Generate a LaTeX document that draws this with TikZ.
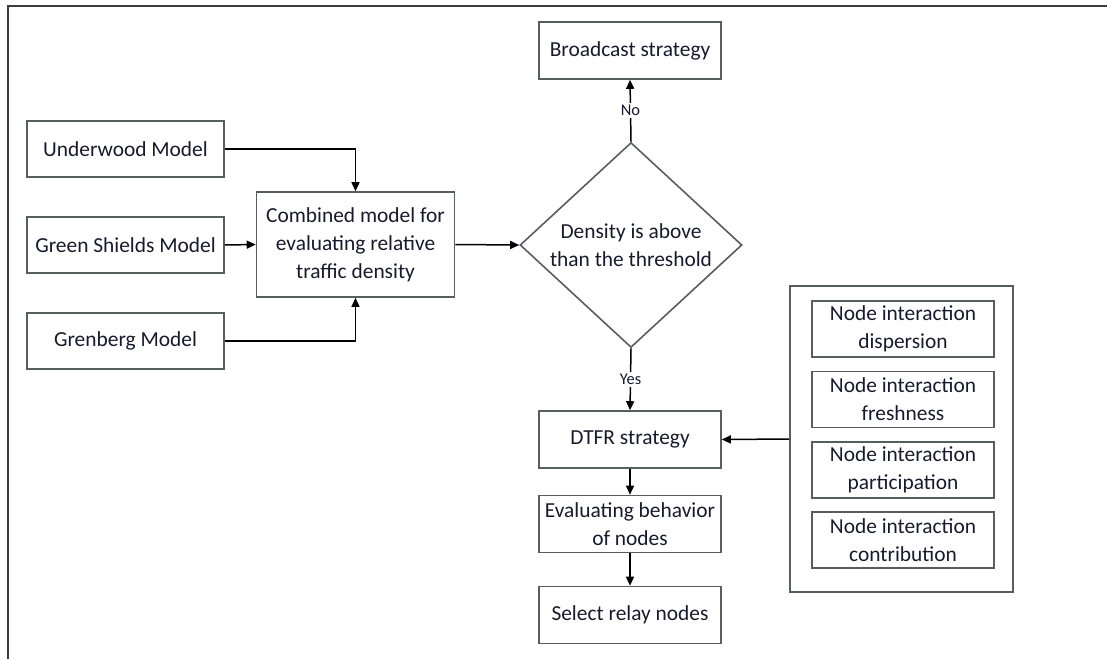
\documentclass[tikz,border=0pt]{standalone}
\usepackage{fontspec}
\setmainfont{Carlito}
\usetikzlibrary{shapes.geometric,arrows.meta}
\definecolor{boxgray}{RGB}{85,95,95}
\definecolor{txt}{RGB}{25,25,45}
\definecolor{framegray}{RGB}{60,60,60}
\begin{document}
\begin{tikzpicture}[x=0.5pt,y=-0.5pt,
  box/.style={draw=boxgray, line width=0.8pt, rectangle, align=center, inner sep=1pt,
    font=\fontsize{10.7}{14}\selectfont, text=txt},
  leftbox/.style={box, minimum width=98.5pt, minimum height=28pt},
  midbox/.style={box, minimum width=91pt, minimum height=28.5pt},
  nibox/.style={box, minimum width=91pt, minimum height=28pt},
  decision/.style={box, shape=diamond, inner sep=0pt, minimum width=111pt, minimum height=97pt},
  panel/.style={draw=boxgray, line width=0.8pt, rectangle, minimum width=111.5pt, minimum height=153pt, inner sep=0pt},
  lab/.style={fill=white, inner sep=1pt, font=\fontsize{8.2}{10}\selectfont, text=txt},
  arr/.style={draw=black, line width=0.75pt, -{Triangle[length=4.5pt,width=4pt]}},
  conn/.style={draw=black, line width=0.75pt}]
\useasboundingbox (0,0) rectangle (1107,659);
\draw[framegray, line width=1.1pt] (8,659) -- (8,6) -- (1107,6);

\node[leftbox] (under) at (125.5,149) {Underwood Model};
\node[leftbox] (green) at (125.5,245) {Green Shields Model};
\node[leftbox] (gren) at (125.5,341) {Grenberg Model};
\node[box, minimum width=99pt, minimum height=52.5pt] (comb) at (355.5,244.5) {Combined model for\\evaluating relative\\traffic density};
\node[decision] (dia) at (631,245) {Density is above\\than the threshold};
\node[midbox] (broad) at (630,50.5) {Broadcast strategy};
\node[midbox] (dtfr) at (630,439.5) {DTFR strategy};
\node[midbox] (eval) at (630,524) {Evaluating behavior\\of nodes};
\node[midbox] (sel) at (630,615) {Select relay nodes};

\node[panel] (pan) at (901.5,439) {};
\node[nibox] (n1) at (903,329) {Node interaction\\dispersion};
\node[nibox] (n2) at (903,399.5) {Node interaction\\freshness};
\node[nibox] (n3) at (903,470) {Node interaction\\participation};
\node[nibox] (n4) at (903,540) {Node interaction\\contribution};

\draw[arr] (under.east) -| (comb.north);
\draw[arr] (green.east) -- (comb.west);
\draw[arr] (gren.east) -| (comb.south);
\draw[arr] (comb.east) -- (dia.west);
\draw[arr] (dia.north) -- node[lab] {No} (broad.south);
\draw[arr] (dia.south) -- node[lab] {Yes} (dtfr.north);
\draw[arr] (dtfr.south) -- (eval.north);
\draw[arr] (eval.south) -- (sel.north);
\draw[arr] (pan.west) -- (dtfr.east);
\end{tikzpicture}
\end{document}
